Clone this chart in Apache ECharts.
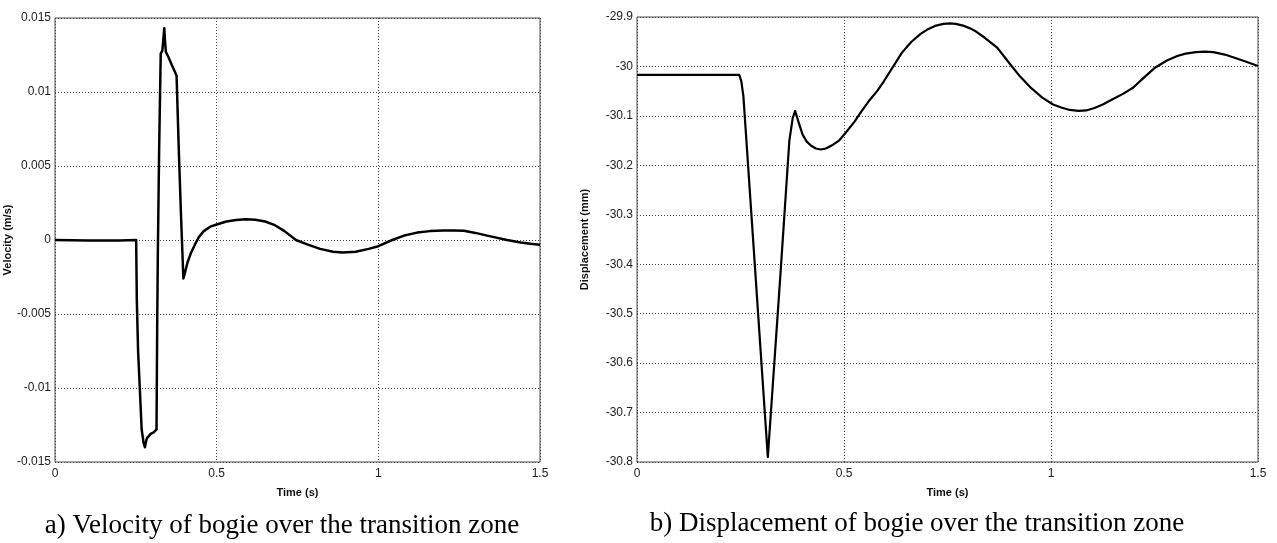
<!DOCTYPE html>
<html>
<head>
<meta charset="utf-8">
<script src="https://cdn.jsdelivr.net/npm/echarts@6/dist/echarts.min.js"></script>
<style>
html,body{margin:0;padding:0;background:#fff;}
#c{width:1277px;height:543px;}
</style>
</head>
<body>
<div id="c"></div>
<script>
// Velocity of bogie (m/s) vs time (s)
const velTime = [0, 0.1, 0.2, 0.251, 0.253, 0.257, 0.262, 0.268, 0.274, 0.278, 0.284, 0.290, 0.296, 0.305, 0.314, 0.316, 0.318, 0.322, 0.327, 0.332, 0.336, 0.338, 0.340, 0.343, 0.350, 0.360, 0.370, 0.376, 0.383, 0.390, 0.397, 0.402, 0.410, 0.420, 0.433, 0.445, 0.46, 0.48, 0.50, 0.53, 0.56, 0.59, 0.62, 0.65, 0.68, 0.71, 0.745, 0.78, 0.82, 0.86, 0.89, 0.93, 0.97, 1.0, 1.043, 1.08, 1.12, 1.16, 1.2, 1.235, 1.265, 1.3, 1.34, 1.398, 1.44, 1.47, 1.5];
const velValues = [0, -0.00003, -0.00003, 0, -0.004, -0.0075, -0.0099, -0.0128, -0.0137, -0.0140, -0.0134, -0.0135, -0.0131, -0.0130, -0.0128, -0.006, -0.001, 0.006, 0.0126, 0.0128, 0.0138, 0.0143, 0.0135, 0.0127, 0.0124, 0.0119, 0.0114, 0.0111, 0.0060, 0.0015, -0.0026, -0.0022, -0.0015, -0.0009, -0.0003, 0.0002, 0.0006, 0.0009, 0.00105, 0.00125, 0.00135, 0.0014, 0.00137, 0.00125, 0.001, 0.0006, 0.0, -0.0003, -0.0006, -0.0008, -0.00084, -0.0008, -0.0006, -0.00042, 0.0, 0.0003, 0.0005, 0.0006, 0.00064, 0.00065, 0.00062, 0.00048, 0.00028, 0.0, -0.00017, -0.00025, -0.00032];

// Displacement of bogie (mm) vs time (s)
const dispTime = [0, 0.247, 0.252, 0.257, 0.316, 0.347, 0.368, 0.376, 0.382, 0.390, 0.400, 0.410, 0.420, 0.432, 0.444, 0.456, 0.470, 0.488, 0.505, 0.525, 0.543, 0.560, 0.580, 0.597, 0.619, 0.640, 0.663, 0.685, 0.700, 0.720, 0.740, 0.756, 0.770, 0.790, 0.805, 0.820, 0.840, 0.870, 0.900, 0.925, 0.950, 0.979, 1.005, 1.025, 1.045, 1.067, 1.085, 1.105, 1.125, 1.150, 1.175, 1.198, 1.225, 1.252, 1.280, 1.305, 1.325, 1.350, 1.372, 1.392, 1.420, 1.445, 1.470, 1.500];
const dispValues = [-30.017, -30.017, -30.03, -30.06, -30.79, -30.414, -30.15, -30.105, -30.090, -30.112, -30.138, -30.152, -30.160, -30.166, -30.168, -30.166, -30.160, -30.150, -30.133, -30.112, -30.090, -30.070, -30.050, -30.029, -30.000, -29.972, -29.950, -29.934, -29.926, -29.918, -29.914, -29.913, -29.914, -29.918, -29.923, -29.930, -29.942, -29.962, -29.994, -30.020, -30.042, -30.063, -30.077, -30.083, -30.088, -30.090, -30.089, -30.084, -30.077, -30.066, -30.055, -30.043, -30.022, -30.002, -29.988, -29.979, -29.974, -29.971, -29.970, -29.971, -29.976, -29.983, -29.990, -29.999];

const timeTicks = [0, 0.5, 1, 1.5];
const velTicks = [-0.015, -0.01, -0.005, 0, 0.005, 0.01, 0.015];
const dispTicks = [-30.8, -30.7, -30.6, -30.5, -30.4, -30.3, -30.2, -30.1, -30, -29.9];

const captionA = 'a) Velocity of bogie over the transition zone';
const captionB = 'b) Displacement of bogie over the transition zone';

const velData = velTime.map((t, i) => [t, velValues[i]]);
const dispData = dispTime.map((t, i) => [t, dispValues[i]]);

const tickFont = {fontFamily: 'Liberation Sans, Arial, sans-serif', fontSize: 12, color: '#222'};
const nameFont = {fontFamily: 'Liberation Sans, Arial, sans-serif', fontSize: 11, fontWeight: 'bold', color: '#111'};
const gridLine = {show: true, lineStyle: {color: '#444', type: [1, 2], width: 1}};

function xAxisFor(gi) {
  return {
    type: 'value', gridIndex: gi, min: timeTicks[0], max: timeTicks[timeTicks.length - 1], interval: 0.5,
    name: 'Time (s)', nameLocation: 'middle', nameGap: 25, nameTextStyle: nameFont,
    axisLine: {show: false}, axisTick: {show: false},
    axisLabel: Object.assign({margin: 6, showMinLabel: true, showMaxLabel: true}, tickFont),
    splitLine: gridLine
  };
}

const chart = echarts.init(document.getElementById('c'), null, {renderer: 'canvas'});
chart.setOption({
  animation: false,
  backgroundColor: '#fff',
  grid: [
    {left: 55, top: 18, width: 485, height: 444, show: true, borderColor: '#4a4a4a', borderWidth: 1},
    {left: 637, top: 17, width: 621, height: 445, show: true, borderColor: '#4a4a4a', borderWidth: 1}
  ],
  xAxis: [xAxisFor(0), xAxisFor(1)],
  yAxis: [
    {
      type: 'value', gridIndex: 0, min: velTicks[0], max: velTicks[velTicks.length - 1], interval: 0.005,
      name: 'Velocity (m/s)', nameLocation: 'middle', nameGap: 36, nameTextStyle: nameFont,
      axisLine: {show: false}, axisTick: {show: false},
      axisLabel: Object.assign({margin: 4, showMinLabel: true, showMaxLabel: true,
        formatter: v => String(Math.round(v * 1000) / 1000)}, tickFont),
      splitLine: gridLine
    },
    {
      type: 'value', gridIndex: 1, min: dispTicks[0], max: dispTicks[dispTicks.length - 1], interval: 0.1,
      name: 'Displacement (mm)', nameLocation: 'middle', nameGap: 47, nameTextStyle: nameFont,
      axisLine: {show: false}, axisTick: {show: false},
      axisLabel: Object.assign({margin: 4, showMinLabel: true, showMaxLabel: true,
        formatter: v => String(Math.round(v * 10) / 10)}, tickFont),
      splitLine: gridLine
    }
  ],
  series: [
    {type: 'line', xAxisIndex: 0, yAxisIndex: 0, data: velData, showSymbol: false, smooth: false,
      lineStyle: {color: '#000', width: 2.5, join: 'round'}, itemStyle: {color: '#000'}},
    {type: 'line', xAxisIndex: 1, yAxisIndex: 1, data: dispData, showSymbol: false, smooth: false,
      lineStyle: {color: '#000', width: 2.2, join: 'round'}, itemStyle: {color: '#000'}}
  ],
  graphic: [
    {type: 'text', x: 282, y: 526, style: {text: captionA, textAlign: 'center', textVerticalAlign: 'middle',
      font: '27px "Liberation Serif", "Times New Roman", serif', fill: '#000'}},
    {type: 'text', x: 917, y: 524, style: {text: captionB, textAlign: 'center', textVerticalAlign: 'middle',
      font: '27px "Liberation Serif", "Times New Roman", serif', fill: '#000'}}
  ]
});
</script>
</body>
</html>
